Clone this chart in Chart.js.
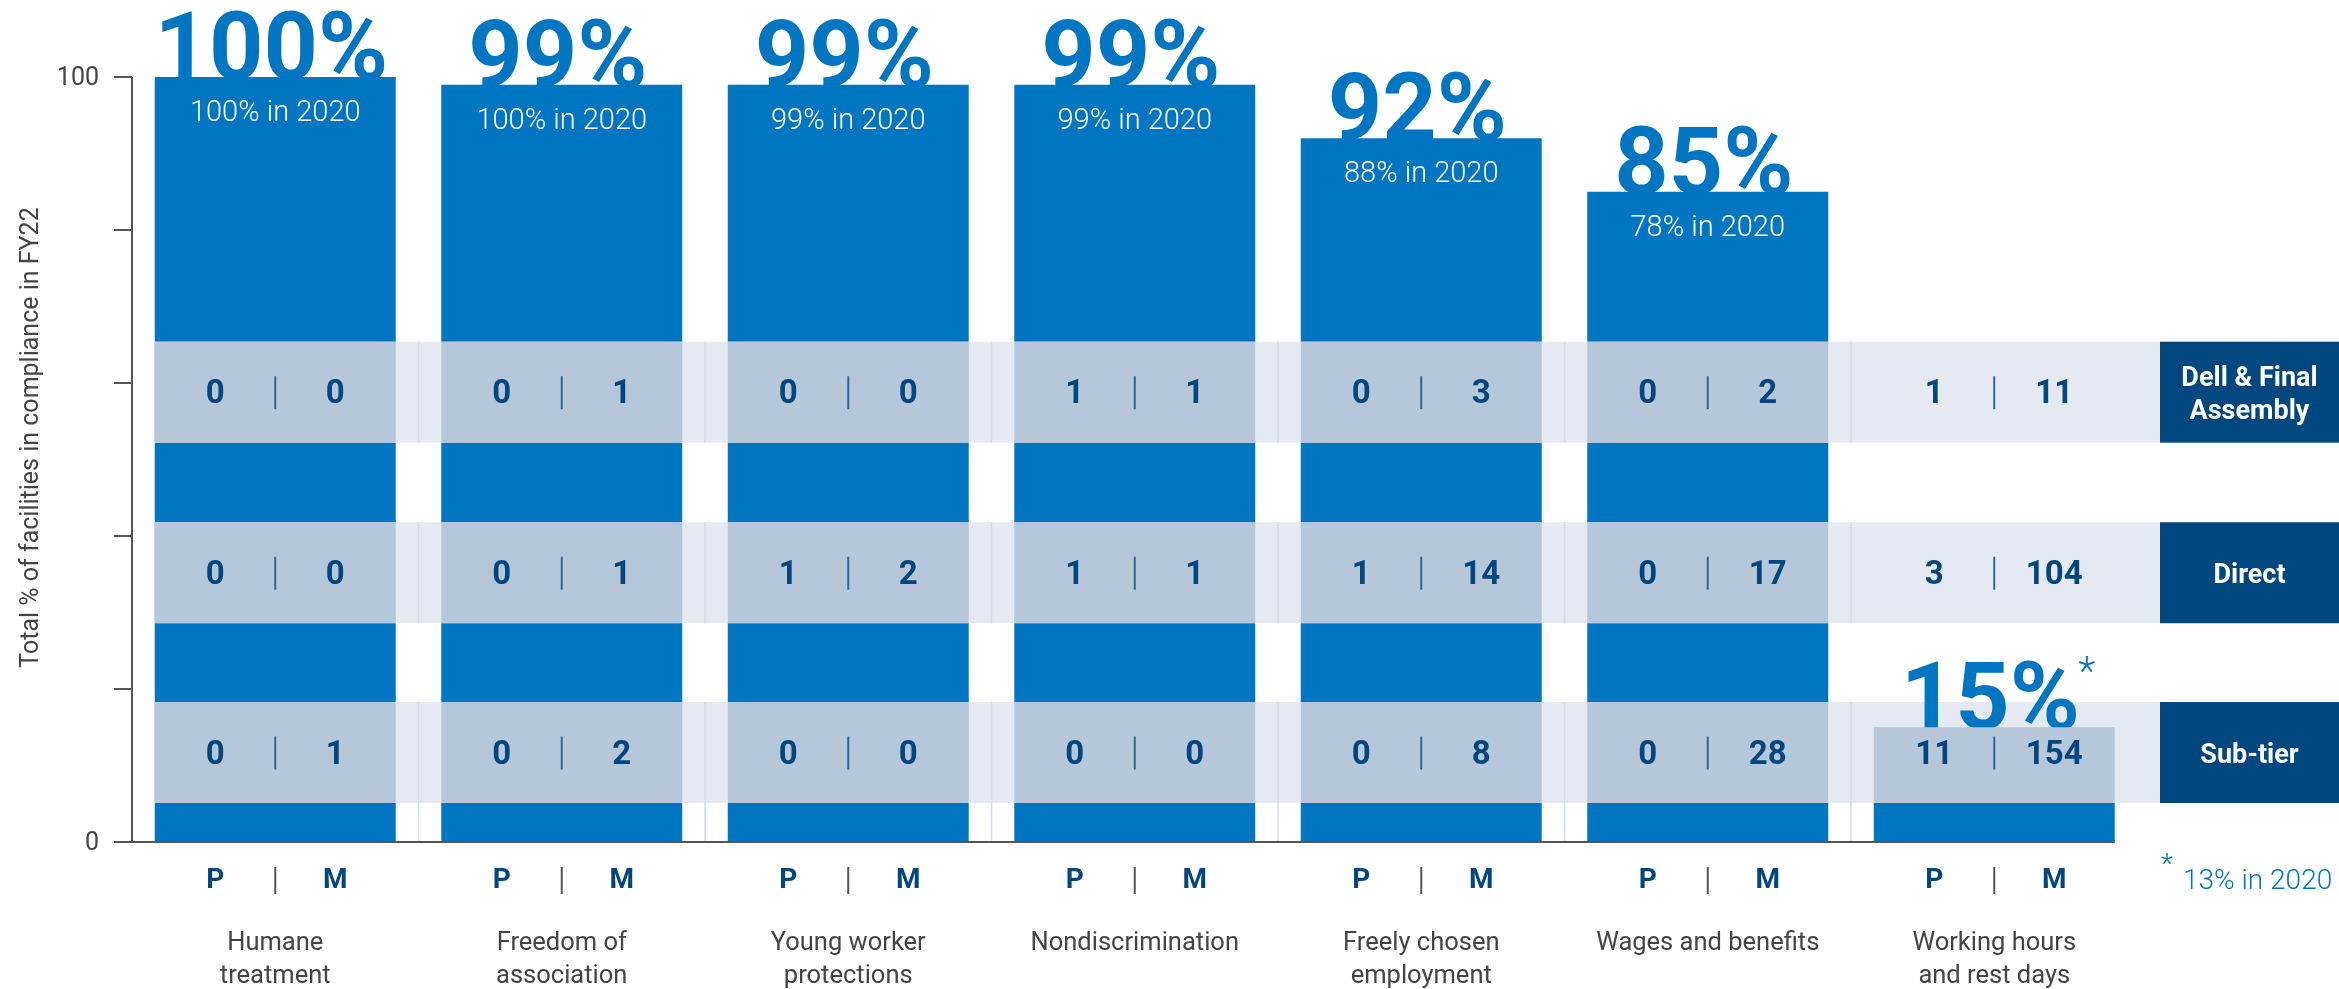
<!DOCTYPE html>
<html>
<head>
<meta charset="utf-8">
<title>Compliance by category FY22</title>
<script src="https://cdn.jsdelivr.net/npm/chart.js@4"></script>
<style>
  html, body { margin: 0; padding: 0; background: #fff; }
  #wrap { width: 2339px; height: 989px; }
</style>
</head>
<body>
<div id="wrap"><canvas id="chart" width="2339" height="989"></canvas></div>
<script>
// --- data ---
const categories = [
  ["Humane", "treatment"],
  ["Freedom of", "association"],
  ["Young worker", "protections"],
  ["Nondiscrimination"],
  ["Freely chosen", "employment"],
  ["Wages and benefits"],
  ["Working hours", "and rest days"]
];
const fy22Pct = [100, 99, 99, 99, 92, 85, 15];
const pct2020 = [100, 100, 99, 99, 88, 78, 13];

const tierNames = [["Dell & Final", "Assembly"], ["Direct"], ["Sub-tier"]];
const dellP = [0, 0, 0, 1, 0, 0, 1];
const dellM = [0, 1, 0, 1, 3, 2, 11];
const directP = [0, 0, 1, 1, 1, 0, 3];
const directM = [0, 1, 2, 1, 14, 17, 104];
const subTierP = [0, 0, 0, 0, 0, 0, 11];
const subTierM = [1, 2, 0, 0, 8, 28, 154];

const yTicks = [0, 20, 40, 60, 80, 100];
const yTickLabels = ["0", "", "", "", "", "100"];
const yTitle = "Total % of facilities in compliance in FY22";
const footnote = "13% in 2020";

// --- styles / layout ---
const BLUE = "#0075c2";
const NAVY = "#00467f";
const BAND_LIGHT = "#e5eaf2";
const BAND_ON_BAR = "#b5c7d9";
const BAND_LINE = "#d3dce8";
const GREY = "#444444";
const AXIS = "#555555";
const FONT = "Roboto, 'Liberation Sans', sans-serif";

// band extents in y-scale units (top, bottom)
const bandRanges = [[65.4, 52.2], [41.8, 28.6], [18.3, 5.1]];
const tierP = [dellP, directP, subTierP];
const tierM = [dellM, directM, subTierM];
const BOX_LEFT = 2160;
const PM_OFFSET = 60;

const overlay = {
  id: "overlay",
  afterDatasetsDraw(chart) {
    const ctx = chart.ctx;
    const x = chart.scales.x, y = chart.scales.y;
    const area = chart.chartArea;
    const bars = chart.getDatasetMeta(0).data;
    const half = bars[0].width / 2;
    const firstLeft = bars[0].x - half;
    const lastRight = bars[bars.length - 1].x + half;
    const y0 = y.getPixelForValue(0);
    const step = x.getPixelForValue(1) - x.getPixelForValue(0);

    ctx.save();

    // light bands
    bandRanges.forEach(([t, b]) => {
      const top = y.getPixelForValue(t), bot = y.getPixelForValue(b);
      ctx.fillStyle = BAND_LIGHT;
      ctx.fillRect(firstLeft, top, BOX_LEFT - firstLeft, bot - top);
    });

    // thin boundary lines between categories
    ctx.strokeStyle = BAND_LINE;
    ctx.lineWidth = 1.5;
    for (let i = 1; i < categories.length; i++) {
      const bx = x.getPixelForValue(i) - step / 2;
      bandRanges.forEach(([t, b], k) => {
        const top = y.getPixelForValue(t);
        const bot = k === bandRanges.length - 1 ? y0 : y.getPixelForValue(b);
        ctx.beginPath();
        ctx.moveTo(bx, top);
        ctx.lineTo(bx, bot);
        ctx.stroke();
      });
    }

    // big FY22 values
    ctx.fillStyle = BLUE;
    ctx.textAlign = "center";
    ctx.textBaseline = "alphabetic";
    ctx.font = "bold 95px " + FONT;
    bars.forEach((bar, i) => {
      ctx.fillText(fy22Pct[i] + "%", bar.x - 4, bar.y + 2);
    });
    // asterisk next to the last value
    const lb = bars[bars.length - 1];
    ctx.font = "300 40px " + FONT;
    ctx.textAlign = "left";
    ctx.textBaseline = "top";
    ctx.fillText("*", lb.x + 84, lb.y - 72);

    // bar parts inside bands
    ctx.fillStyle = BAND_ON_BAR;
    bars.forEach((bar) => {
      bandRanges.forEach(([t, b]) => {
        const top = Math.max(y.getPixelForValue(t), bar.y);
        const bot = y.getPixelForValue(b);
        if (bot > top) ctx.fillRect(bar.x - half, top, half * 2, bot - top);
      });
    });

    // P | M counts inside bands
    bandRanges.forEach(([t, b], k) => {
      const cy = (y.getPixelForValue(t) + y.getPixelForValue(b)) / 2;
      bars.forEach((bar, i) => {
        ctx.fillStyle = NAVY;
        ctx.font = "bold 33px " + FONT;
        ctx.textAlign = "center";
        ctx.textBaseline = "middle";
        ctx.fillText(String(tierP[k][i]), bar.x - PM_OFFSET, cy + 3);
        ctx.fillText(String(tierM[k][i]), bar.x + PM_OFFSET, cy + 3);
        ctx.strokeStyle = "#2f6699";
        ctx.lineWidth = 2;
        ctx.beginPath();
        ctx.moveTo(bar.x, cy - 16);
        ctx.lineTo(bar.x, cy + 17);
        ctx.stroke();
      });
      // tier label boxes
      const top = y.getPixelForValue(t), bot = y.getPixelForValue(b);
      ctx.fillStyle = NAVY;
      ctx.fillRect(BOX_LEFT, top, chart.width - BOX_LEFT, bot - top);
      ctx.fillStyle = "#ffffff";
      ctx.font = "bold 27px " + FONT;
      const lines = tierNames[k];
      const bx = (BOX_LEFT + chart.width) / 2;
      lines.forEach((ln, j) => {
        ctx.fillText(ln, bx, cy + 4 + (j - (lines.length - 1) / 2) * 33);
      });
    });

    // 2020 values on top of bars
    ctx.fillStyle = "#ffffff";
    ctx.font = "300 29px " + FONT;
    ctx.textAlign = "center";
    ctx.textBaseline = "middle";
    bars.forEach((bar, i) => {
      if (i < bars.length - 1) ctx.fillText(pct2020[i] + "% in 2020", bar.x, bar.y + 37);
    });

    // y axis
    ctx.strokeStyle = AXIS;
    ctx.lineWidth = 2;
    ctx.beginPath();
    ctx.moveTo(area.left, y.getPixelForValue(100));
    ctx.lineTo(area.left, y0);
    ctx.stroke();
    ctx.fillStyle = GREY;
    ctx.font = "25px " + FONT;
    ctx.textAlign = "right";
    yTicks.forEach((v, i) => {
      const py = y.getPixelForValue(v);
      ctx.beginPath();
      ctx.moveTo(area.left - 18, py);
      ctx.lineTo(area.left, py);
      ctx.stroke();
      if (yTickLabels[i]) ctx.fillText(yTickLabels[i], area.left - 33, py + 2);
    });
    // x axis line
    ctx.beginPath();
    ctx.moveTo(area.left - 18, y0);
    ctx.lineTo(lastRight, y0);
    ctx.stroke();

    // y title
    ctx.save();
    ctx.translate(32, (y.getPixelForValue(100) + y0) / 2 - 22);
    ctx.rotate(-Math.PI / 2);
    ctx.textAlign = "center";
    ctx.font = "25px " + FONT;
    ctx.fillText(yTitle, 0, 0);
    ctx.restore();

    // P | M headers and category names
    bars.forEach((bar, i) => {
      ctx.fillStyle = NAVY;
      ctx.font = "bold 28px " + FONT;
      ctx.textAlign = "center";
      ctx.fillText("P", bar.x - PM_OFFSET, y0 + 39);
      ctx.fillText("M", bar.x + PM_OFFSET, y0 + 39);
      ctx.strokeStyle = AXIS;
      ctx.beginPath();
      ctx.moveTo(bar.x, y0 + 25);
      ctx.lineTo(bar.x, y0 + 52);
      ctx.stroke();
      ctx.fillStyle = GREY;
      ctx.font = "25.5px " + FONT;
      categories[i].forEach((ln, j) => {
        ctx.fillText(ln, bar.x, y0 + 102 + j * 33);
      });
    });

    // footnote
    ctx.fillStyle = BLUE;
    ctx.textAlign = "left";
    ctx.font = "300 28px " + FONT;
    ctx.fillText("*", 2161, y0 + 24);
    ctx.font = "300 28px " + FONT;
    ctx.fillText(footnote, 2183, y0 + 40);

    ctx.restore();
  }
};

new Chart(document.getElementById("chart"), {
  type: "bar",
  data: {
    labels: categories.map((c) => c.join(" ")),
    datasets: [{
      data: fy22Pct,
      backgroundColor: BLUE,
      borderWidth: 0,
      categoryPercentage: 1,
      barPercentage: 0.841
    }]
  },
  options: {
    responsive: false,
    animation: false,
    devicePixelRatio: 1,
    layout: { padding: { left: 132, right: 201.5, top: 77, bottom: 147 } },
    scales: {
      x: { display: false },
      y: { display: false, min: 0, max: 100 }
    },
    plugins: { legend: { display: false }, tooltip: { enabled: false } }
  },
  plugins: [overlay]
});
</script>
</body>
</html>
